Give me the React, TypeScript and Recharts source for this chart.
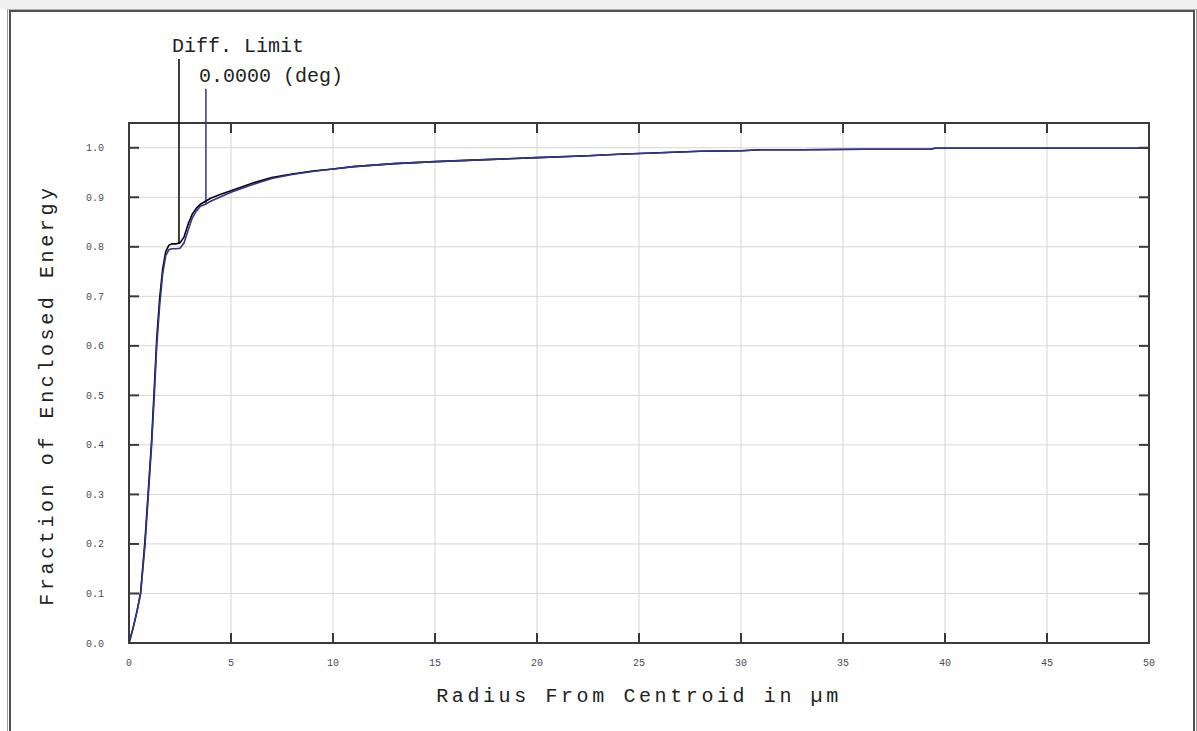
import React from 'react';
import {
  LineChart,
  Line,
  XAxis,
  YAxis,
  CartesianGrid,
  ReferenceLine,
  ReferenceArea,
  Label,
} from 'recharts';

// radius from centroid (µm)
const radius = [
  0, 0.2, 0.4, 0.57, 0.78, 0.95, 1.11, 1.24, 1.36, 1.5, 1.65, 1.8, 1.95, 2.1, 2.3, 2.5, 2.7,
  2.9, 3.1, 3.3, 3.5, 3.75, 4.0, 4.5, 5, 6, 7, 8, 9, 10, 11, 12, 13, 15, 17.5, 20, 22.5, 24,
  26, 28, 30, 31, 33, 36, 39.3, 39.5, 42, 45, 50,
];

// Diff. Limit curve
const diffLimit = [
  0, 0.03, 0.066, 0.102, 0.205, 0.31, 0.41, 0.515, 0.615, 0.695, 0.755, 0.79, 0.803, 0.806,
  0.806, 0.808, 0.82, 0.846, 0.866, 0.878, 0.886, 0.892, 0.898, 0.906, 0.913, 0.928, 0.94,
  0.947, 0.953, 0.957, 0.962, 0.965, 0.968, 0.972, 0.976, 0.98, 0.984, 0.987, 0.99, 0.993,
  0.994, 0.996, 0.996, 0.997, 0.997, 0.999, 0.999, 0.999, 0.999,
];

// 0.0000 (deg) field curve
const field0 = [
  0, 0.03, 0.065, 0.1, 0.195, 0.3, 0.4, 0.5, 0.6, 0.68, 0.745, 0.782, 0.794, 0.796, 0.796,
  0.797, 0.808, 0.834, 0.858, 0.872, 0.882, 0.886, 0.892, 0.901, 0.91, 0.925, 0.938, 0.946,
  0.952, 0.957, 0.962, 0.965, 0.968, 0.972, 0.976, 0.98, 0.984, 0.987, 0.99, 0.993, 0.994,
  0.996, 0.996, 0.997, 0.997, 0.999, 0.999, 0.999, 0.999,
];

const xTicks = [0, 5, 10, 15, 20, 25, 30, 35, 40, 45, 50];
const yTicks = [0, 0.1, 0.2, 0.3, 0.4, 0.5, 0.6, 0.7, 0.8, 0.9, 1.0];

// leader lines
const callouts = [
  { text: 'Diff. Limit', r: 2.45, from: 0.806, to: 1.179, color: '#000000' },
  { text: '0.0000 (deg)', r: 3.77, from: 0.886, to: 1.119, color: '#34348c' },
];

const data = radius.map((r, i) => ({ r, diff: diffLimit[i], f0: field0[i] }));

const W = 1197;
const H = 731;
const PLOT = { left: 129, top: 123, right: 1149, bottom: 643 };
const TICK_LEN = 10;
const MONO = '"Liberation Mono", "Courier New", monospace';
const AXIS = '#3a3a3a';
const TICK_TEXT = '#4a4a5a';

// bottom ticks: label + inward tick at bottom and top of the plot
const XTick = ({ x, payload }: any) => (
  <g>
    <line x1={x} x2={x} y1={PLOT.bottom} y2={PLOT.bottom - TICK_LEN} stroke={AXIS} strokeWidth={2} />
    <line x1={x} x2={x} y1={PLOT.top} y2={PLOT.top + TICK_LEN} stroke={AXIS} strokeWidth={2} />
    <text x={x} y={PLOT.bottom + 23} textAnchor="middle" fontFamily={MONO} fontSize={10} fill={TICK_TEXT}>
      {payload.value}
    </text>
  </g>
);

// left ticks: label + inward tick at left and right of the plot
const YTick = ({ y, payload }: any) => (
  <g>
    <line x1={PLOT.left} x2={PLOT.left + TICK_LEN} y1={y} y2={y} stroke={AXIS} strokeWidth={2} />
    <line x1={PLOT.right - TICK_LEN} x2={PLOT.right} y1={y} y2={y} stroke={AXIS} strokeWidth={2} />
    <text x={PLOT.left - 25} y={y + 3.5} textAnchor="end" fontFamily={MONO} fontSize={10} fill={TICK_TEXT}>
      {Number(payload.value).toFixed(1)}
    </text>
  </g>
);

const CalloutText = ({ viewBox, text }: any) => {
  if (!viewBox) return null;
  const top = Math.min(viewBox.y, viewBox.y + (viewBox.height || 0));
  return (
    <text x={viewBox.x - 7} y={top - 7} fontFamily={MONO} fontSize={20} fill="#222" textAnchor="start">
      {text}
    </text>
  );
};

export default function App() {
  return (
    <div style={{ position: 'absolute', left: 0, top: 0, width: W, height: H, background: '#fff', overflow: 'hidden' }}>
      <div style={{ position: 'absolute', left: 0, top: 0, width: W, height: 9, background: '#f0f0f0' }} />
      <div style={{ position: 'absolute', left: 7, top: 9, width: 1188, height: 740, borderLeft: '1px solid #a0a0a0', borderTop: '1px solid #b0b0b0', borderRight: '1px solid #a0a0a0' }} />
      <div style={{ position: 'absolute', left: 9, top: 10, width: 1182, height: 740, borderLeft: '2px solid #505050', borderTop: '2px solid #505050', borderRight: '2px solid #505050' }} />
      <div style={{ position: 'absolute', left: 0, top: 0 }}>
        <LineChart
          width={W}
          height={H}
          data={data}
          margin={{ top: PLOT.top, right: W - PLOT.right, bottom: H - PLOT.bottom - 40, left: PLOT.left - 60 }}
        >
          <CartesianGrid stroke="#d6d6d6" strokeWidth={1} horizontalValues={yTicks} verticalValues={xTicks} />
          <XAxis
            dataKey="r"
            type="number"
            domain={[0, 50]}
            ticks={xTicks}
            height={40}
            tickSize={0}
            tickLine={false}
            axisLine={{ stroke: AXIS, strokeWidth: 2 }}
            tick={<XTick />}
            interval={0}
          >
            <Label
              content={({ viewBox }: any) => (
                <text
                  x={viewBox.x + viewBox.width / 2}
                  y={viewBox.y + viewBox.height + 19}
                  textAnchor="middle"
                  fontFamily={MONO}
                  fontSize={20}
                  letterSpacing={3.6}
                  fill="#222"
                >
                  Radius From Centroid in µm
                </text>
              )}
            />
          </XAxis>
          <YAxis
            type="number"
            domain={[0, 1.05]}
            ticks={yTicks}
            width={60}
            tickSize={0}
            tickLine={false}
            axisLine={{ stroke: AXIS, strokeWidth: 2 }}
            tick={<YTick />}
            interval={0}
          >
            <Label
              content={({ viewBox }: any) => {
                const cx = viewBox.x - 22;
                const cy = viewBox.y + viewBox.height / 2 + 12;
                return (
                  <text
                    x={cx}
                    y={cy}
                    transform={`rotate(-90 ${cx} ${cy})`}
                    textAnchor="middle"
                    dominantBaseline="central"
                    fontFamily={MONO}
                    fontSize={20}
                    letterSpacing={3.6}
                    fill="#222"
                  >
                    Fraction of Enclosed Energy
                  </text>
                );
              }}
            />
          </YAxis>
          <ReferenceArea x1={0} x2={50} y1={0} y2={1.05} fill="none" stroke={AXIS} strokeWidth={2} ifOverflow="visible" />
          {callouts.map((c) => (
            <ReferenceLine
              key={c.text}
              segment={[
                { x: c.r, y: c.to },
                { x: c.r, y: c.from },
              ]}
              stroke={c.color}
              strokeWidth={1.5}
              ifOverflow="visible"
              label={<CalloutText text={c.text} />}
            />
          ))}
          <Line dataKey="diff" type="linear" stroke="#000000" strokeWidth={1.6} dot={false} isAnimationActive={false} />
          <Line dataKey="f0" type="linear" stroke="#34348c" strokeWidth={1.6} dot={false} isAnimationActive={false} />
        </LineChart>
      </div>
    </div>
  );
}
